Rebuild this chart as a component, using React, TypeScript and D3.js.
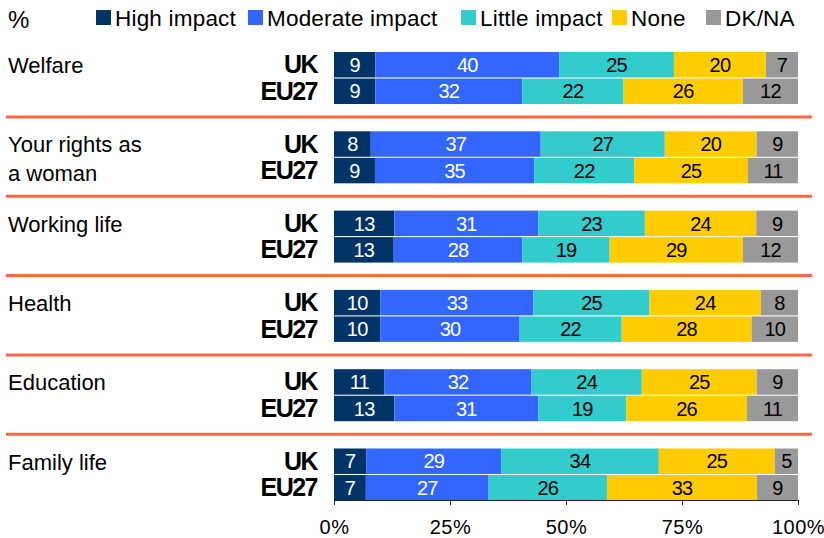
import React, { useEffect, useRef } from 'react'
import * as d3 from 'd3'

const categories = ['Welfare', 'Your rights as\na woman', 'Working life', 'Health', 'Education', 'Family life']
const rows = ['UK', 'EU27']
const seriesNames = ['High impact', 'Moderate impact', 'Little impact', 'None', 'DK/NA']
const seriesColors = ['#003366', '#3366FF', '#33CCCC', '#FFCC00', '#999999']
const seriesTextColors = ['#ffffff', '#ffffff', '#000000', '#000000', '#000000']

// values per category, [UK, EU27]
const highImpact = [[9, 9], [8, 9], [13, 13], [10, 10], [11, 13], [7, 7]]
const moderateImpact = [[40, 32], [37, 35], [31, 28], [33, 30], [32, 31], [29, 27]]
const littleImpact = [[25, 22], [27, 22], [23, 19], [25, 22], [24, 19], [34, 26]]
const noneValues = [[20, 26], [20, 25], [24, 29], [24, 28], [25, 26], [25, 33]]
const dkna = [[7, 12], [9, 11], [9, 12], [8, 10], [9, 11], [5, 9]]
const xTicks = [0, 0.25, 0.5, 0.75, 1]

const App: React.FC = () => {
  const svgRef = useRef<SVGSVGElement>(null)

  useEffect(() => {
    if (!svgRef.current) return
    const svg = d3.select(svgRef.current)
    svg.selectAll('*').remove()

    const font = 'Arial, "Liberation Sans", sans-serif'
    const allSeries = [highImpact, moderateImpact, littleImpact, noneValues, dkna]

    // flat table: one record per category x row
    const table = categories.flatMap((c, ci) =>
      rows.map((r, ri) => {
        const rec: any = { cat: c, row: r }
        seriesNames.forEach((s, si) => { rec[s] = allSeries[si][ci][ri] })
        return rec
      })
    )

    const stack = d3.stack<any>().keys(seriesNames).offset(d3.stackOffsetExpand)
    const stacked = stack(table)

    const x = d3.scaleLinear().domain([0, 1]).range([334, 798])
    const yGroup = d3.scaleBand().domain(categories).range([40, 40 + 6 * 79.3])
    const yRow = d3.scaleBand().domain(rows).range([12, 64]).paddingInner(0.04)

    const g = svg.append('g')

    // legend
    svg.append('text')
      .attr('x', 8).attr('y', 28)
      .style('font-family', font).style('font-size', '24px')
      .text('%')
    const legendX = [96, 248, 461, 612, 706]
    seriesNames.forEach((s, i) => {
      svg.append('rect')
        .attr('x', legendX[i]).attr('y', 10).attr('width', 15).attr('height', 15)
        .attr('fill', seriesColors[i])
      svg.append('text')
        .attr('x', legendX[i] + 19).attr('y', 26)
        .style('font-family', font).style('font-size', '22.5px')
        .style('letter-spacing', '0.2px')
        .text(s)
    })

    // separators
    categories.slice(0, -1).forEach(c => {
      g.append('line')
        .attr('x1', 6).attr('x2', 812)
        .attr('y1', yGroup(c)! + 77).attr('y2', yGroup(c)! + 77)
        .attr('stroke', '#FF6644').attr('stroke-width', 3)
    })

    // category & row labels
    categories.forEach(c => {
      const y0 = yGroup(c)!
      c.split('\n').forEach((line, li) => {
        g.append('text')
          .attr('x', 8).attr('y', y0 + 33 + li * 29)
          .style('font-family', font).style('font-size', '22px')
          .text(line)
      })
      rows.forEach(r => {
        g.append('text')
          .attr('x', 317).attr('y', y0 + yRow(r)! + yRow.bandwidth() / 2 + 8.5)
          .attr('text-anchor', 'end')
          .style('font-family', font).style('font-size', '25px').style('font-weight', 'bold')
          .style('letter-spacing', '-1.5px')
          .text(r)
      })
    })

    // bars
    stacked.forEach((layer, si) => {
      layer.forEach(d => {
        const rec = d.data
        const y0 = yGroup(rec.cat)! + yRow(rec.row)!
        g.append('rect')
          .attr('x', x(d[0])).attr('y', y0)
          .attr('width', x(d[1]) - x(d[0])).attr('height', yRow.bandwidth())
          .attr('fill', seriesColors[si])
        g.append('text')
          .attr('x', (x(d[0]) + x(d[1])) / 2)
          .attr('y', y0 + yRow.bandwidth() / 2)
          .attr('dy', '0.36em')
          .attr('text-anchor', 'middle')
          .attr('fill', seriesTextColors[si])
          .style('font-family', font).style('font-size', '20px')
          .style('letter-spacing', '-0.8px')
          .text(rec[seriesNames[si]])
      })
    })

    // x axis
    const axis = g.append('g').attr('transform', 'translate(0,500)')
      .call(d3.axisBottom(x).tickValues(xTicks).tickSize(5).tickSizeOuter(5).tickFormat(d3.format('.0%')))
    axis.select('.domain').attr('stroke', '#222')
    axis.selectAll('.tick line').attr('stroke', '#222')
    axis.selectAll('.tick text')
      .attr('y', 27).attr('dy', '0.35em').attr('fill', '#000')
      .style('font-family', font).style('font-size', '20px')
      .style('letter-spacing', '0.5px')
  }, [])

  return (
    <div style={{ position: 'absolute', left: 0, top: 0 }}>
      <svg ref={svgRef} width={824} height={538} style={{ display: 'block', background: '#fff' }} />
    </div>
  )
}

export default App
